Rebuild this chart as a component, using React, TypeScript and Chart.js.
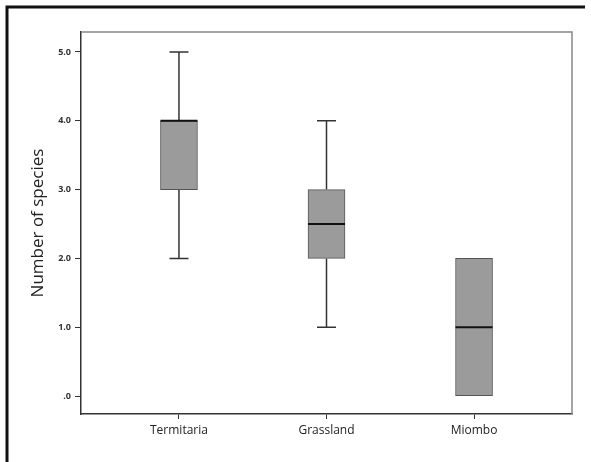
import React, { useEffect, useRef } from "react";
import { Chart, registerables } from "chart.js";

Chart.register(...registerables);

const categories = ["Termitaria", "Grassland", "Miombo"];
const minValues = [2, 1, 0];
const q1Values = [3, 2, 0];
const medianValues = [4, 2.5, 1];
const q3Values = [4, 3, 2];
const maxValues = [5, 4, 2];
const yTickValues = [0, 1, 2, 3, 4, 5];

const boxPlugin = {
  id: "boxWhiskers",
  beforeDraw(chart: any) {
    const ctx = chart.ctx;
    ctx.save();
    ctx.fillStyle = "#ffffff";
    ctx.fillRect(0, 0, chart.width, chart.height);
    ctx.strokeStyle = "#111";
    ctx.lineWidth = 3;
    ctx.beginPath();
    ctx.moveTo(7, chart.height);
    ctx.lineTo(7, 7);
    ctx.lineTo(585, 7);
    ctx.stroke();
    ctx.restore();
  },
  beforeDatasetsDraw(chart: any) {
    const ctx = chart.ctx;
    const xs = chart.scales.x;
    const ys = chart.scales.y;
    ctx.save();
    ctx.strokeStyle = "#333";
    ctx.lineWidth = 1.5;
    categories.forEach((_, i) => {
      const x = xs.getPixelForValue(i);
      const capHalf = 9.5;
      const pMax = ys.getPixelForValue(maxValues[i]);
      const pQ3 = ys.getPixelForValue(q3Values[i]);
      const pQ1 = ys.getPixelForValue(q1Values[i]);
      const pMin = ys.getPixelForValue(minValues[i]);
      ctx.beginPath();
      if (maxValues[i] > q3Values[i]) {
        ctx.moveTo(x, pMax);
        ctx.lineTo(x, pQ3);
        ctx.moveTo(x - capHalf, pMax);
        ctx.lineTo(x + capHalf, pMax);
      }
      if (minValues[i] < q1Values[i]) {
        ctx.moveTo(x, pMin);
        ctx.lineTo(x, pQ1);
        ctx.moveTo(x - capHalf, pMin);
        ctx.lineTo(x + capHalf, pMin);
      }
      ctx.stroke();
    });
    ctx.restore();
  },
  afterDatasetsDraw(chart: any) {
    const ctx = chart.ctx;
    const xs = chart.scales.x;
    const ys = chart.scales.y;
    const area = chart.chartArea;
    ctx.save();
    ctx.strokeStyle = "#111";
    ctx.lineWidth = 2;
    categories.forEach((_, i) => {
      const x = xs.getPixelForValue(i);
      const p = ys.getPixelForValue(medianValues[i]);
      ctx.beginPath();
      ctx.moveTo(x - 18.5, p);
      ctx.lineTo(x + 18.5, p);
      ctx.stroke();
    });
    ctx.strokeStyle = "#888";
    ctx.lineWidth = 1.5;
    ctx.beginPath();
    ctx.moveTo(area.left, area.top);
    ctx.lineTo(area.right, area.top);
    ctx.lineTo(area.right, area.bottom);
    ctx.stroke();
    ctx.restore();
  },
};

export default function App() {
  const ref = useRef<HTMLCanvasElement>(null);
  useEffect(() => {
    document.body.style.margin = "0";
    const chart = new Chart(ref.current as HTMLCanvasElement, {
      type: "bar",
      data: {
        datasets: [
          {
            data: categories.map((c, i) => ({ x: i, y: [q1Values[i], q3Values[i]] })) as any,
            backgroundColor: "#9b9b9b",
            borderColor: "#555",
            borderWidth: 1,
            borderSkipped: false,
            barThickness: 37,
          },
        ],
      },
      options: {
        animation: false,
        responsive: false,
        maintainAspectRatio: false,
        layout: { padding: { left: 0, top: 32, right: 19, bottom: 0 } },
        plugins: { legend: { display: false }, tooltip: { enabled: false } },
        scales: {
          x: {
            type: "linear",
            min: -0.664,
            max: 2.664,
            offset: false,
            afterBuildTicks: (s: any) => {
              s.ticks = categories.map((_, i) => ({ value: i }));
            },
            afterFit: (s: any) => {
              s.height = 48;
            },
            ticks: {
              callback: (v: any) => categories[Number(v)] ?? "",
              color: "#222",
              font: { family: "Open Sans", size: 12 },
              padding: 4,
              maxRotation: 0,
            },
            grid: { offset: false, drawOnChartArea: false, drawTicks: true, tickLength: 5, color: "#333" },
            border: { color: "#333", width: 1.5 },
          },
          y: {
            type: "linear",
            min: -0.26,
            max: 5.29,
            afterBuildTicks: (s: any) => {
              s.ticks = yTickValues.map((v) => ({ value: v }));
            },
            afterFit: (s: any) => {
              s.width = 81;
            },
            ticks: {
              callback: (v: any) => (Number(v) === 0 ? ".0" : Number(v).toFixed(1)),
              color: "#333",
              font: { family: "Open Sans", size: 9, weight: "bold" },
              padding: 4,
            },
            grid: { offset: false, drawOnChartArea: false, drawTicks: true, tickLength: 6, color: "#333" },
            border: { color: "#333", width: 1.5 },
            title: {
              display: true,
              text: "Number of species",
              color: "#222",
              font: { family: "Open Sans", size: 17 },
              padding: { top: 28, bottom: 0 },
            },
          },
        },
      },
      plugins: [boxPlugin],
    });
    return () => chart.destroy();
  }, []);
  return (
    <div style={{ width: 591, height: 462 }}>
      <canvas ref={ref} width={591} height={462} style={{ display: "block" }} />
    </div>
  );
}
